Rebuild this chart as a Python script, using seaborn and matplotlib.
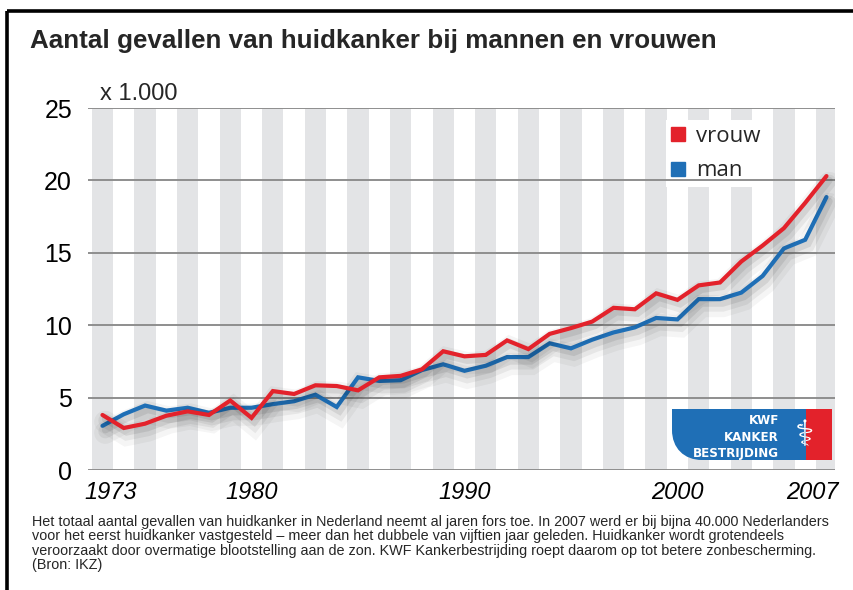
import numpy as np
import pandas as pd
import seaborn as sns
import matplotlib
matplotlib.use("Agg")
import matplotlib.pyplot as plt
import matplotlib.patheffects as pe
from matplotlib.path import Path
from matplotlib.patches import PathPatch, Rectangle
from matplotlib.lines import Line2D
from matplotlib.transforms import ScaledTranslation

# ---- data (x 1.000 gevallen) ----
years = list(range(1973, 2008))
vrouw = [3.8, 2.9, 3.2, 3.75, 4.05, 3.8, 4.8, 3.6, 5.45, 5.25, 5.85, 5.8, 5.5, 6.4, 6.5,
         6.95, 8.2, 7.85, 7.95, 8.95, 8.35, 9.4, 9.8, 10.25, 11.2, 11.1, 12.2, 11.75,
         12.75, 12.95, 14.4, 15.5, 16.7, 18.45, 20.3]
man = [3.05, 3.85, 4.45, 4.1, 4.3, 3.95, 4.3, 4.3, 4.55, 4.75, 5.2, 4.35, 6.4, 6.15, 6.2,
       6.9, 7.3, 6.85, 7.2, 7.8, 7.8, 8.75, 8.4, 9.0, 9.5, 9.85, 10.5, 10.4,
       11.8, 11.8, 12.25, 13.4, 15.3, 15.9, 18.85]
series_names = ["vrouw", "man"]
series_colors = ["#e3222b", "#1f6fb6"]
y_ticks = [0, 5, 10, 15, 20, 25]
x_ticks = [1973, 1980, 1990, 2000, 2007]

title = "Aantal gevallen van huidkanker bij mannen en vrouwen"
unit_label = "x 1.000"
footer_lines = [
    "Het totaal aantal gevallen van huidkanker in Nederland neemt al jaren fors toe. In 2007 werd er bij bijna 40.000 Nederlanders",
    "voor het eerst huidkanker vastgesteld \u2013 meer dan het dubbele van vijftien jaar geleden. Huidkanker wordt grotendeels",
    "veroorzaakt door overmatige blootstelling aan de zon. KWF Kankerbestrijding roept daarom op tot betere zonbescherming.",
    "(Bron: IKZ)",
]
logo_lines = ["KWF", "KANKER", "BESTRIJDING"]

df = pd.DataFrame({
    "jaar": years * 2,
    "aantal": vrouw + man,
    "geslacht": ["vrouw"] * len(years) + ["man"] * len(years),
})

sns.set_style("white")
plt.rcParams["font.family"] = ["Liberation Sans", "DejaVu Sans"]

W, H = 854, 590
fig = plt.figure(figsize=(W / 100, H / 100), dpi=100)
fig.patch.set_facecolor("white")

ax_left, ax_right, ax_top, ax_bot = 88, 835, 108, 470
ax = fig.add_axes([ax_left / W, 1 - ax_bot / H, (ax_right - ax_left) / W, (ax_bot - ax_top) / H])

# alternating bands (odd years grey)
for yr in years:
    if yr % 2 == 1:
        ax.axvspan(yr - 0.5, yr + 0.5, color="#e3e4e6", lw=0, zorder=0.2)

sns.lineplot(data=df, x="jaar", y="aantal", hue="geslacht", hue_order=series_names[::-1],
             palette=dict(zip(series_names, series_colors)), linewidth=3.0,
             legend=False, ax=ax, zorder=3)

shadow = [
    pe.SimpleLineShadow(offset=(2, -5), shadow_color="black", alpha=0.04, rho=1, linewidth=16),
    pe.SimpleLineShadow(offset=(2, -4), shadow_color="black", alpha=0.06, rho=1, linewidth=10),
    pe.SimpleLineShadow(offset=(2, -3), shadow_color="black", alpha=0.08, rho=1, linewidth=5),
    pe.Normal(),
]
for ln in ax.lines:
    ln.set_path_effects(shadow)
    ln.set_solid_joinstyle("miter")

ax.set_xlim(1972.32, 2007.4)
ax.set_ylim(0, 25)
ax.set_axisbelow(True)
ax.yaxis.grid(True, color="#8e8e8e", linewidth=1.4)
ax.xaxis.grid(False)
for s in ax.spines.values():
    s.set_visible(False)
ax.set_yticks(y_ticks)
ax.set_yticklabels([str(v) for v in y_ticks], fontsize=18)
ax.set_xticks(x_ticks)
ax.set_xticklabels([str(v) for v in x_ticks], fontsize=17, style="italic")
ax.tick_params(axis="y", length=0, pad=11.5, colors="black")
ax.tick_params(axis="x", length=0, pad=8, colors="black")
ax.set_xlabel("")
ax.set_ylabel("")

offsets = {1973: 8.5, 2007: -14.0}
for tk, val in zip(ax.xaxis.get_major_ticks(), x_ticks):
    if val in offsets:
        tk.label1.set_transform(tk.label1.get_transform() +
                                ScaledTranslation(offsets[val] / 100, 0, fig.dpi_scale_trans))

# legend (white box sits above the bands but below the grid lines)
handles = [Line2D([], [], marker="s", linestyle="none", color=c, markersize=10)
           for c in series_colors]
leg = ax.legend(handles, series_names, loc="upper left",
                bbox_to_anchor=(666 / W, 1 - 120 / H), bbox_transform=fig.transFigure,
                frameon=True, fancybox=False, facecolor="white", edgecolor="none",
                framealpha=1, fontsize=16, handlelength=0.6, handletextpad=0.5,
                labelspacing=0.62, borderpad=0.25, borderaxespad=0)
leg.set_zorder(0.3)
for t in leg.get_texts():
    t.set_family(["Open Sans", "DejaVu Sans"])

# overlay for texts / decorations in pixel coords
ov = fig.add_axes([0, 0, 1, 1], zorder=5)
ov.set_xlim(0, W)
ov.set_ylim(H, 0)
ov.axis("off")
ov.patch.set_visible(False)

ov.plot([7, 7], [11, H + 2], color="black", lw=2.6, solid_capstyle="butt")
ov.plot([7, W + 2], [11, 11], color="black", lw=2.6, solid_capstyle="butt")

ov.text(30, 48, title, fontsize=18.7, fontweight="bold", va="baseline", ha="left")
ov.text(100, 100, unit_label, fontsize=17, va="baseline", ha="left")
for i, line in enumerate(footer_lines):
    ov.text(32, 526 + 14.4 * i, line, fontsize=10.4, va="baseline", ha="left")

# KWF logo
verts = [(672, 409), (806, 409), (806, 460), (702, 460),
         (684, 460), (672, 448), (672, 430), (672, 409)]
codes = [Path.MOVETO, Path.LINETO, Path.LINETO, Path.LINETO,
         Path.CURVE4, Path.CURVE4, Path.CURVE4, Path.CLOSEPOLY]
ov.add_patch(PathPatch(Path(verts, codes), facecolor="#1f6fb6", edgecolor="none"))
ov.add_patch(Rectangle((806, 409), 26, 51, facecolor="#e3222b", edgecolor="none"))
for txt, yy in zip(logo_lines, [424, 441, 457]):
    ov.text(779, yy, txt, color="white", fontsize=8.6, fontweight="bold",
            ha="right", va="baseline", family=["DejaVu Sans"])
ov.text(805, 436, "\u2695", color="white", fontsize=26, ha="center", va="center",
        family=["DejaVu Sans"])

fig.savefig("out.png", dpi=100, facecolor="white")
